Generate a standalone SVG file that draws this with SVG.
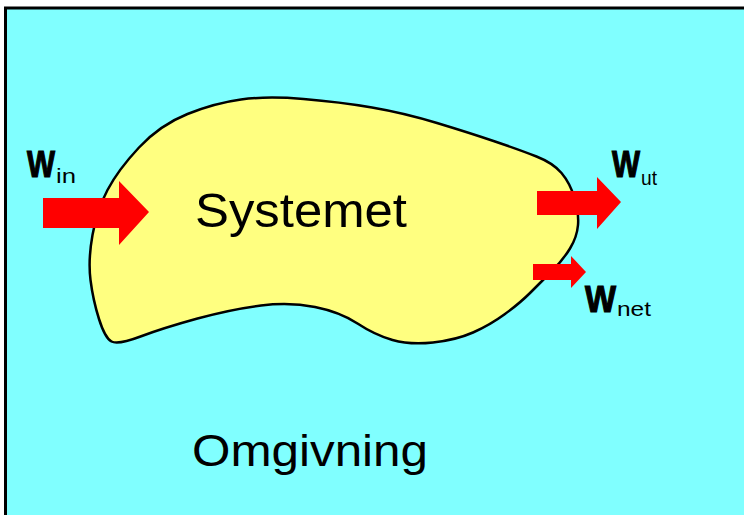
<svg xmlns="http://www.w3.org/2000/svg" width="744" height="515" viewBox="0 0 744 515">
<style>
.big{font-family:"Liberation Sans",Arial,sans-serif;fill:#000}
.w{font-family:"Liberation Sans",Arial,sans-serif;font-weight:bold;font-size:37px;fill:#000;stroke:#000;stroke-width:1.2px}
.sub{font-family:"Liberation Sans",Arial,sans-serif;font-size:20px;fill:#000}
.arrow{fill:#FF0000;stroke:none}
</style>
<rect x="0" y="0" width="744" height="515" fill="#FFFFFF"/>
<g id="environment">
<rect x="5.5" y="8" width="745" height="515" fill="#80FFFF" stroke="#000" stroke-width="3"/>
<text class="big" x="192" y="466" font-size="44" textLength="236" lengthAdjust="spacingAndGlyphs">Omgivning</text>
</g>
<g id="system">
<path d="M303.5,99 Q340,102 372,107.5 Q404,113 437,123 Q470,133 495,141.5 Q520,150 536.5,156.5 Q553,163 561.5,173 Q570,183 574.5,198 Q579,213 578,225 Q577,237 570,248.5 Q563,260 551.5,271.5 Q540,283 530,293 Q520,303 505,314 Q490,325 473,332.5 Q456,340 433,342.5 Q410,345 392.5,340 Q375,335 357.5,323.5 Q340,312 315,307 Q290,302 261,305.5 Q232,309 197.5,318.5 Q163,328 140.5,336.5 Q118,345 111.5,341.5 Q105,338 99,319 Q93,300 90.5,280 Q88,260 92.5,235 Q97,210 107.5,190 Q118,170 139,147.5 Q160,125 187.5,114 Q215,103 241,99.5 Q267,96 303.5,99 Z" fill="#FFFF80" stroke="#000" stroke-width="2.5"/>
<text class="big" x="195" y="227" font-size="49" textLength="212" lengthAdjust="spacingAndGlyphs">Systemet</text>
</g>
<g id="connectors">
<polygon class="arrow" points="43,198 119,198 119,181 149,212 119,245 119,228 43,228"/>
<polygon class="arrow" points="537,191 597,191 597,177 621,202 597,229 597,215 537,215"/>
<polygon class="arrow" points="533,264 571,264 571,256 586,272 571,288 571,280 533,280"/>
</g>
<g id="label-win">
<text class="w" x="27" y="177" textLength="28" lengthAdjust="spacingAndGlyphs">W</text>
<text class="sub" x="56" y="183" textLength="20" lengthAdjust="spacingAndGlyphs">in</text>
</g>
<g id="label-wut">
<text class="w" x="612" y="177" textLength="28" lengthAdjust="spacingAndGlyphs">W</text>
<text class="sub" x="641" y="185" textLength="16" lengthAdjust="spacingAndGlyphs">ut</text>
</g>
<g id="label-wnet">
<text class="w" x="585" y="312" textLength="31" lengthAdjust="spacingAndGlyphs">W</text>
<text class="sub" x="617" y="316" textLength="34" lengthAdjust="spacingAndGlyphs">net</text>
</g>
</svg>
